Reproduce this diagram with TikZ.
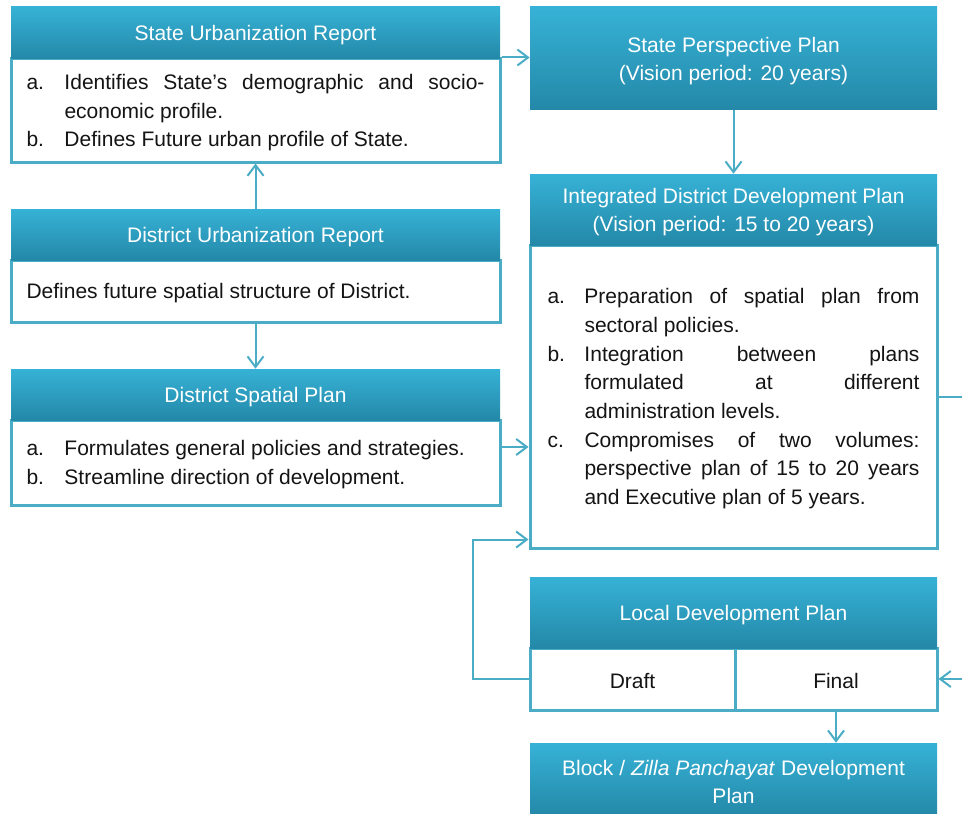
\documentclass[tikz,border=0pt]{standalone}
\usepackage{fontspec}
\setmainfont{Liberation Sans}
\usetikzlibrary{arrows.meta,calc}

\definecolor{edge}{RGB}{75,172,198}
\definecolor{headtop}{RGB}{54,178,214}
\definecolor{headbot}{RGB}{36,136,168}
\definecolor{ink}{RGB}{20,20,20}

% a tall invisible rule that sets the top of the first line of a box
\newcommand\topstrut{\rule{0pt}{15pt}}
% hanging list entries inside the white boxes
\newlength\itemhang
\newcommand\listentry[2]{\par\hangindent=\itemhang\hangafter=1\noindent\hbox to\itemhang{\topstrut#1\hfil}#2}
\newcommand\bodytext[3]{\begin{minipage}{#1}\setlength\itemhang{#2}\fontsize{15.75}{21.5}\selectfont\hbadness=10000\relax #3\end{minipage}}

\tikzset{
  header/.style={rectangle, inner sep=0pt, top color=headtop, bottom color=headbot,
    text=white, align=center, font=\fontsize{15.75}{21}\selectfont},
  bodybox/.style={rectangle, inner sep=0pt, draw=edge, line width=2.25pt, fill=white,
    text=ink, align=center, font=\fontsize{15.75}{21.5}\selectfont},
  link/.style={draw=edge, line width=1.5pt, -{Straight Barb[length=8pt,width=12pt]}},
  leftcol/.style={minimum width=366.75pt},
  rightcol/.style={minimum width=305.25pt},
}

\begin{document}
\begin{tikzpicture}[x=0.75pt,y=-0.75pt]
\useasboundingbox (0,0) rectangle (962,813);
\clip (0,0) rectangle (962,813);

% ---------- left column ----------
\node[bodybox, leftcol, minimum height=77.25pt] (surb) at (255.5,110.5)
  {\bodytext{343.5pt}{28.5pt}{%
    \listentry{a.}{Identifies State’s demographic and socio-economic profile.}
    \listentry{b.}{Defines Future urban profile of State.}}};
\node[header, leftcol, minimum height=39pt] (surh) at (255.5,33) {\topstrut State Urbanization Report};

\node[bodybox, leftcol, minimum height=46.5pt] (durb) at (255.5,291)
  {\bodytext{343.5pt}{28.5pt}{\topstrut Defines future spatial structure of District.}};
\node[header, leftcol, minimum height=38.25pt] (durh) at (255.5,234.5) {\topstrut District Urbanization Report};

\node[bodybox, leftcol, minimum height=63.75pt] (dspb) at (255.5,462.5)
  {\bodytext{343.5pt}{28.5pt}{%
    \listentry{a.}{Formulates general policies and strategies.}
    \listentry{b.}{Streamline direction of development.}}};
\node[header, leftcol, minimum height=38.25pt] (dsph) at (255.5,394.5) {\topstrut District Spatial Plan};

% ---------- right column ----------
\node[header, rightcol, minimum height=77.25pt] (spp) at (733.5,58.5)
  {\topstrut State Perspective Plan\\(Vision period: 20 years)};

\node[bodybox, rightcol, minimum height=227.25pt] (iddpb) at (733.5,396.5)
  {\bodytext{279pt}{27.75pt}{%
    \listentry{a.}{Preparation of spatial plan from\linebreak sectoral policies.}
    \listentry{b.}{Integration between plans\linebreak formulated at different\linebreak administration levels.}
    \listentry{c.}{Compromises of two volumes:\linebreak perspective plan of 15 to 20 years\linebreak and Executive plan of 5 years.}}};
\node[header, rightcol, minimum height=53.25pt] (iddph) at (733.5,209.5)
  {\topstrut Integrated District Development Plan\\(Vision period: 15 to 20 years)};

\node[bodybox, minimum width=153.75pt, minimum height=46.5pt] (draft) at (632.5,679) {\topstrut Draft};
\node[bodybox, minimum width=151.5pt, minimum height=46.5pt] (final) at (836,679) {\topstrut Final};
\node[header, rightcol, minimum height=53.25pt] (ldp) at (733.5,612.5) {\topstrut Local Development Plan};

\node[header, rightcol, minimum height=54.75pt] (block) at (733.5,779.5)
  {\topstrut Block / \textit{Zilla Panchayat} Development\\Plan};

% ---------- connectors ----------
\draw[link] (surb.north east) -- (surb.north east -| spp.west);
\draw[link] (spp.south) -- (iddph.north);
\draw[link] (durh.north) -- (surb.south);
\draw[link] (durb.south) -- (dsph.north);
\coordinate (dspout) at ($(dspb.east)+(0,-15.5)$);
\draw[link] (dspout) -- (dspout -| iddpb.west);
\coordinate (loopin) at ($(iddpb.south west)+(0,-10)$);
\draw[link] (draft.west) -- ++(-56,0) |- (loopin);
\draw[link] (iddpb.east) -- ++(40,0) |- (final.east);
\draw[link] (final.south) -- (final.south |- block.north);
\end{tikzpicture}
\end{document}
